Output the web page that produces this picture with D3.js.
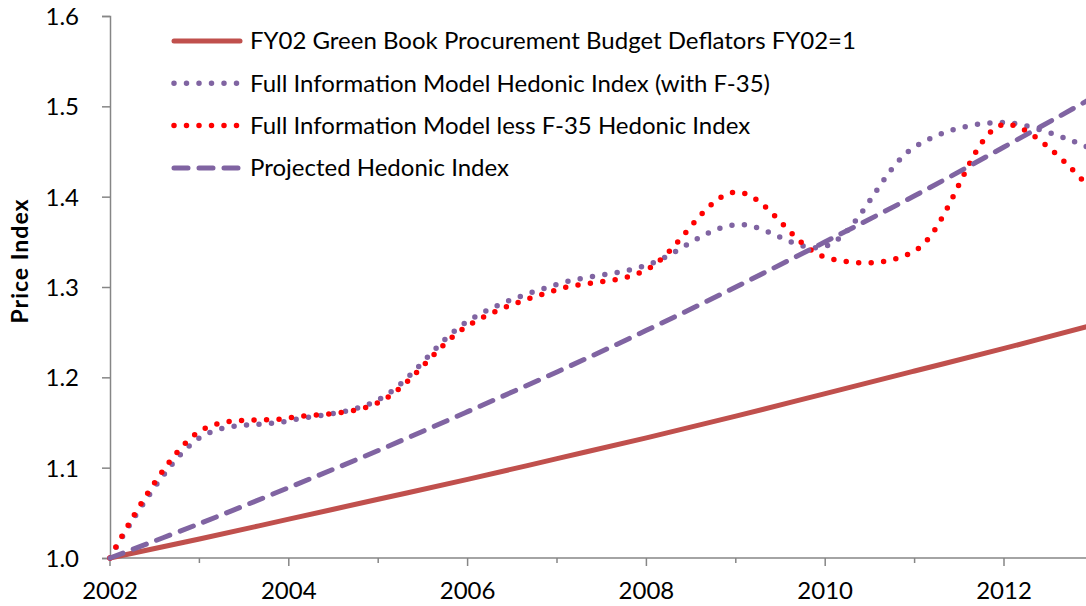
<!DOCTYPE html>
<html>
<head>
<meta charset="utf-8">
<script src="https://cdn.jsdelivr.net/npm/d3@7"></script>
<style>
  body { margin: 0; background: #fff; }
  svg text { font-family: Lato, "Open Sans", sans-serif; fill: #000; }
</style>
</head>
<body>
<div id="graphicContainer"></div>
<script>
// yearly points
var years = [2002, 2003, 2004, 2005, 2006, 2007, 2008, 2009, 2010, 2011, 2012, 2013]
var deflator = [1.000, 1.021, 1.043, 1.065, 1.087, 1.110, 1.133, 1.157, 1.182, 1.207, 1.232, 1.258]
var fullInfo = [1.000, 1.133, 1.152, 1.175, 1.262, 1.303, 1.324, 1.369, 1.345, 1.455, 1.482, 1.452]
var lessF35 = [1.000, 1.140, 1.155, 1.172, 1.257, 1.297, 1.319, 1.405, 1.333, 1.340, 1.480, 1.405]
var projected = [1.000, 1.038, 1.078, 1.119, 1.162, 1.206, 1.252, 1.300, 1.350, 1.401, 1.455, 1.510]

var yTicks = [1.0, 1.1, 1.2, 1.3, 1.4, 1.5, 1.6]
var xLabelYears = [2002, 2004, 2006, 2008, 2010, 2012]
var tickYears = [2002, 2003, 2004, 2005, 2006, 2007, 2008, 2009, 2010, 2011, 2012, 2013]

var seriesNames = [
	"FY02 Green Book Procurement Budget Deflators FY02=1",
	"Full Information Model Hedonic Index (with F-35)",
	"Full Information Model less F-35 Hedonic Index",
	"Projected Hedonic Index"
]

var width = 1086
var height = 606
var margin = {top: 16, left: 110, bottom: 48}

var svg = d3.select("#graphicContainer").append("svg")
	.attr("width", width)
	.attr("height", height)

var x = d3.scaleLinear()
	.domain([2002, 2013])
	.range([margin.left, margin.left + 89.4 * 11])

var y = d3.scaleLinear()
	.domain([1.0, 1.6])
	.range([height - margin.bottom, margin.top])

var axisColor = "#868686"

// y axis
var yAxis = d3.axisLeft(y)
	.tickValues(yTicks)
	.tickSize(8)
	.tickPadding(23)
	.tickFormat(d3.format(".1f"))

var gy = svg.append("g")
	.attr("transform", "translate(" + margin.left + ",0)")
	.call(yAxis)
gy.select(".domain").attr("stroke", axisColor).attr("stroke-width", 1.5)
gy.selectAll(".tick line").attr("stroke", axisColor).attr("stroke-width", 1.5)
gy.selectAll(".tick text").attr("font-size", 24).attr("dy", "0.35em")

// x axis: short ticks every year, long ones under the labels
var xBase = y(1.0)
svg.append("line")
	.attr("x1", margin.left).attr("x2", width)
	.attr("y1", xBase).attr("y2", xBase)
	.attr("stroke", axisColor).attr("stroke-width", 1.5)

svg.selectAll(".xtick")
	.data(tickYears)
	.enter()
	.append("line")
	.attr("class", "xtick")
	.attr("x1", d => x(d)).attr("x2", d => x(d))
	.attr("y1", xBase)
	.attr("y2", d => xBase + (d % 2 == 0 ? 8 : 5))
	.attr("stroke", axisColor).attr("stroke-width", 1.5)

svg.selectAll(".xlabel")
	.data(xLabelYears)
	.enter()
	.append("text")
	.attr("class", "xlabel")
	.attr("x", d => x(d))
	.attr("y", 599)
	.attr("text-anchor", "middle")
	.attr("font-size", 24)
	.text(d => d)

// y title
svg.append("text")
	.attr("transform", "translate(28,261) rotate(-90)")
	.attr("text-anchor", "middle")
	.attr("font-size", 23)
	.attr("font-weight", "bold")
	.attr("letter-spacing", 1)
	.text("Price Index")

var styles = [
	{values: deflator, color: "#c0504d", dash: null, w: 5},
	{values: fullInfo, color: "#8064a2", dash: "0,12.5", w: 5.5},
	{values: lessF35, color: "#ff0000", dash: "0,12.5", w: 5.5},
	{values: projected, color: "#8064a2", dash: "14,11", w: 5}
]

var line = d3.line()
	.x(d => x(d[0]))
	.y(d => y(d[1]))
	.curve(d3.curveCatmullRom.alpha(0.5))

styles.forEach(function (s) {
	svg.append("path")
		.datum(years.map((yr, i) => [yr, s.values[i]]))
		.attr("d", line)
		.attr("fill", "none")
		.attr("stroke", s.color)
		.attr("stroke-width", s.w)
		.attr("stroke-linecap", "round")
		.attr("stroke-dasharray", s.dash)
})

// legend
var legend = svg.append("g")
styles.forEach(function (s, i) {
	var ly = 41 + i * 42.3
	legend.append("line")
		.attr("x1", 174).attr("x2", 240)
		.attr("y1", ly).attr("y2", ly)
		.attr("stroke", s.color)
		.attr("stroke-width", s.w)
		.attr("stroke-linecap", "round")
		.attr("stroke-dasharray", s.dash)
	legend.append("text")
		.attr("x", 250)
		.attr("y", ly)
		.attr("dy", "0.35em")
		.attr("font-size", 24)
		.text(seriesNames[i])
})
</script>
</body>
</html>
